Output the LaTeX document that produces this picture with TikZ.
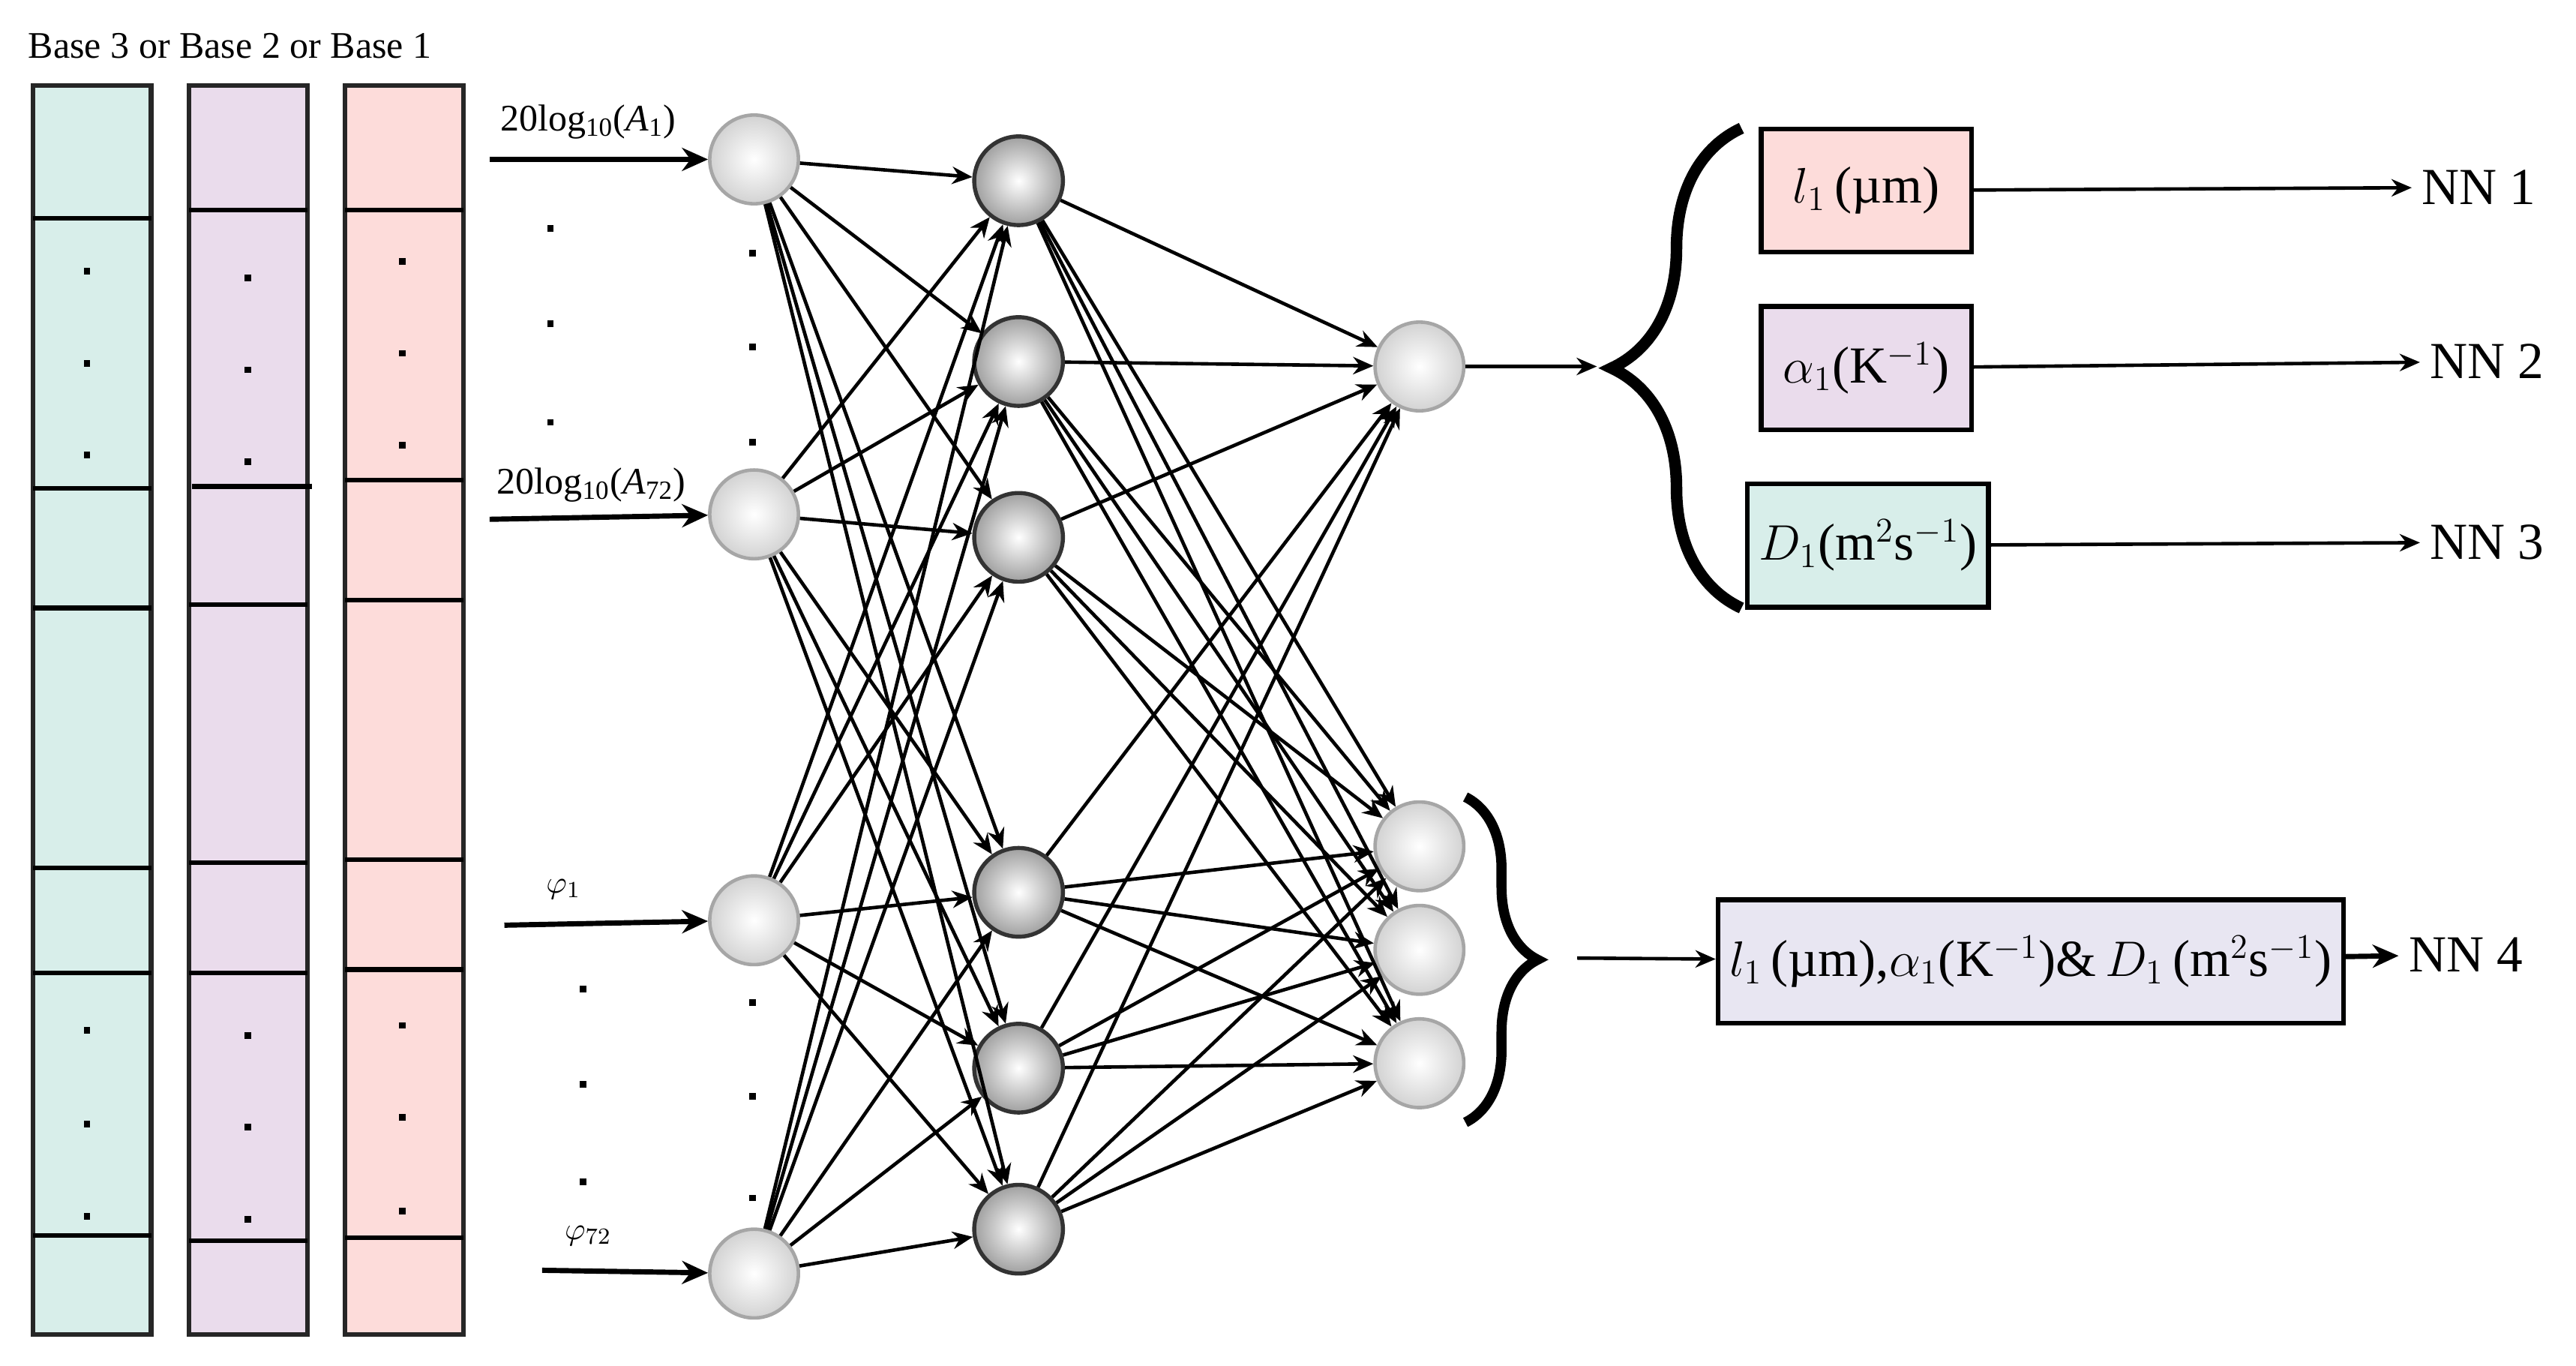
\documentclass[tikz,border=0pt]{standalone}
\usepackage{fontspec}
\setmainfont{Liberation Serif}
\usetikzlibrary{arrows.meta,decorations.pathreplacing,calc}

\definecolor{tealbg}{HTML}{D8EEEA}
\definecolor{purpbg}{HTML}{EADCEC}
\definecolor{pinkbg}{HTML}{FDDCDA}
\definecolor{lavbg}{HTML}{E8E6F2}

\tikzset{
  light/.style={circle,minimum size=1.08cm,inner sep=0pt,draw=gray!70,line width=1.2pt,
    shading=radial,inner color=white,outer color=gray!35},
  dark/.style={circle,minimum size=1.08cm,inner sep=0pt,draw=black!80,line width=1.4pt,
    shading=radial,inner color=white,outer color=gray!75},
  wire/.style={->,black,line width=1.2pt,>={Stealth[length=7pt,width=6pt]}},
  feed/.style={->,black,line width=1.8pt,>={Stealth[length=9pt,width=8pt]}},
  box/.style={draw,line width=1.6pt,minimum height=1.5cm,inner sep=4pt},
  big/.style={font=\fontsize{18}{20}\selectfont}
}

\begin{document}
\begin{tikzpicture}[x=0.02cm,y=-0.02cm]
\useasboundingbox (0,0) rectangle (1568,831);
\fill[white] (0,0) rectangle (1568,831);

%label columns
\node[font=\fontsize{13}{15}\selectfont] (base) at (140,28) {Base 3 or Base 2 or Base 1};

%draw the three columns
\foreach \xa/\col in {20/tealbg,115/purpbg,210/pinkbg}
	{
	\filldraw[fill=\col,draw=black!85,line width=1.6pt] (\xa,52) rectangle (\xa+72,812);
	}
\foreach \y in {133,297,370,528,592,752} \draw[line width=1.6pt] (20,\y)--(92,\y);
\foreach \y in {128,368,525,592,755} \draw[line width=1.6pt] (115,\y)--(187,\y);
\draw[line width=1.6pt] (117,296)--(190,296);
\foreach \y in {128,292,365,523,590,753} \draw[line width=1.6pt] (210,\y)--(282,\y);
\foreach \y in {163,219,275,625,682,738} \fill (51,\y) rectangle +(4,4);
\foreach \y in {167,223,279,628,684,740} \fill (149,\y) rectangle +(4,4);
\foreach \y in {157,213,269,622,678,735} \fill (243,\y) rectangle +(4,4);

%draw neurons
\foreach \n/\y in {1/97,2/313,3/560,4/775} \node[light] (i\n) at (459,\y) {};
\foreach \n/\y in {1/110,2/220,3/327,4/543,5/650,6/748} \node[dark] (h\n) at (620,\y) {};
\foreach \n/\y in {1/223,2/515,3/578,4/647} \node[light] (o\n) at (864,\y) {};

%dots between neurons
\foreach \y in {152,209,267,608,665,727} \fill (456,\y) rectangle +(4,4);
\foreach \y in {137,195,255} \fill (333,\y) rectangle +(4,4);
\foreach \y in {600,658,717} \fill (353,\y) rectangle +(4,4);

%input arrows
\coordinate (s1) at (298,97);
\coordinate (s2) at (298,316);
\coordinate (s3) at (307,563);
\coordinate (s4) at (330,773);
\foreach \n in {1,...,4} \draw[feed] (s\n)--(i\n);
\node[font=\fontsize{13}{15}\selectfont] (l1) at (358,74) {20log\textsubscript{10}(\textit{A}\textsubscript{1})};
\node[font=\fontsize{13}{15}\selectfont] (l2) at (360,295) {20log\textsubscript{10}(\textit{A}\textsubscript{72})};
\node[font=\fontsize{11}{13}\selectfont] (l3) at (343,541) {$\varphi_{1}$};
\node[font=\fontsize{11}{13}\selectfont] (l4) at (358,752) {$\varphi_{72}$};

%draw connections
\foreach \a in {1,...,4}
	\foreach \b in {1,...,6}
		{
		\draw[wire] (i\a)--(h\b);
		}
\foreach \a in {1,...,6}
	\foreach \b in {1,...,4}
		{
		\draw[wire] (h\a)--(o\b);
		}

%upper output
\coordinate (bt) at (972,223);
\draw[wire] (o1)--(bt);
\draw[line width=4pt,decorate,decoration={brace,amplitude=45pt,aspect=0.5}] (1060,370)--(1060,78);
\node[box,fill=pinkbg,minimum width=2.56cm,big] (p1) at (1136,116) {$l_{1}$\,(µm)};
\node[box,fill=purpbg,minimum width=2.56cm,big] (p2) at (1136,224) {$\alpha_{1}$(K$^{-1}$)};
\node[box,fill=tealbg,minimum width=2.52cm,big] (p3) at (1137,332) {$D_{1}$(m$^{2}$s$^{-1}$)};
\node[big,anchor=west] (nn1) at (1468,114) {NN 1};
\node[big,anchor=west] (nn2) at (1473,220) {NN 2};
\node[big,anchor=west] (nn3) at (1473,330) {NN 3};
\foreach \n in {1,2,3} \draw[wire] (p\n)--(nn\n);

%lower output
\draw[line width=3.5pt,decorate,decoration={brace,amplitude=25pt}] (892,485)--(892,683);
\coordinate (bb) at (960,583);
\node[box,fill=lavbg,minimum width=7.44cm,big] (p4) at (1236,585)
	{$l_{1}$\,(µm),$\alpha_{1}$(K$^{-1}$)\&\,$D_{1}$\,(m$^{2}$s$^{-1}$)};
\node[big,anchor=west] (nn4) at (1460,581) {NN 4};
\draw[wire] (bb)--(p4);
\draw[feed] (p4)--(nn4);
\end{tikzpicture}
\end{document}
